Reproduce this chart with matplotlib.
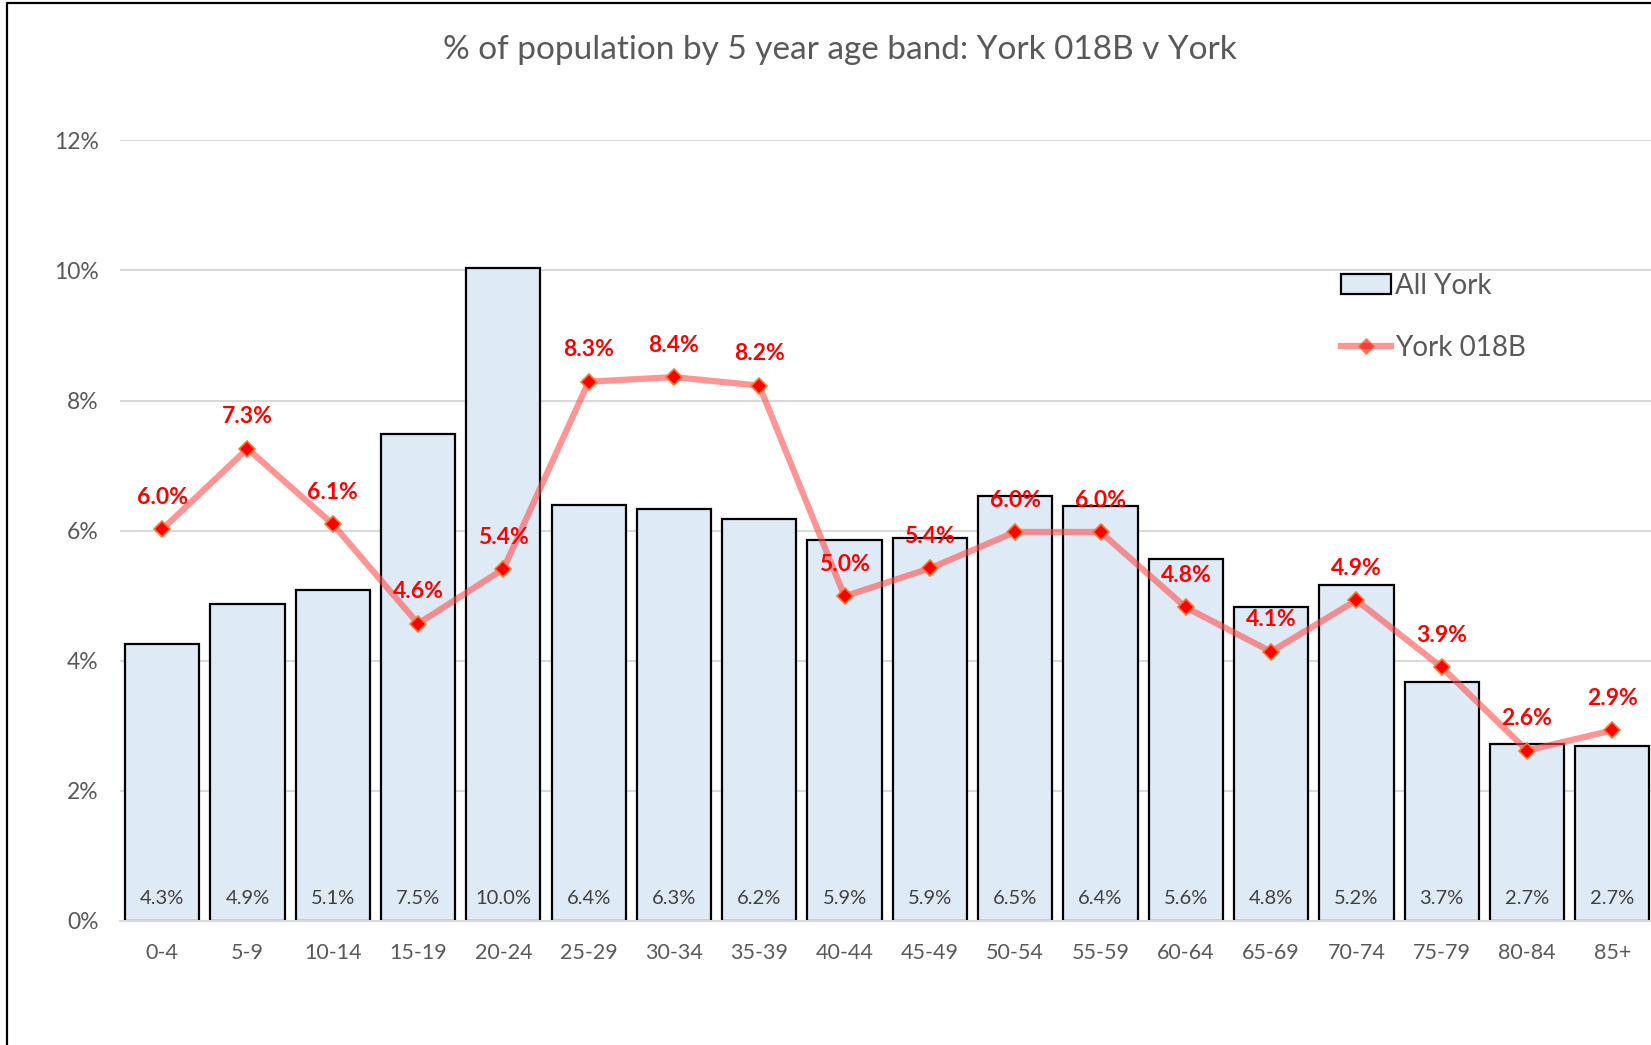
"""% of population by 5 year age band: York 018B compared with all of York."""

import matplotlib.pyplot as plt
import numpy as np
from matplotlib.lines import Line2D
from matplotlib.ticker import FuncFormatter


AGE_BANDS = [
    "0-4", "5-9", "10-14", "15-19", "20-24", "25-29", "30-34", "35-39",
    "40-44", "45-49", "50-54", "55-59", "60-64", "65-69", "70-74", "75-79",
    "80-84", "85+",
]
ALL_YORK = [
    4.26, 4.88, 5.09, 7.49, 10.03, 6.39, 6.34, 6.18, 5.86, 5.88, 6.53, 6.38,
    5.56, 4.82, 5.16, 3.68, 2.72, 2.69,
]
YORK_018B = [
    6.02, 7.26, 6.10, 4.57, 5.41, 8.29, 8.36, 8.23, 4.99, 5.42, 5.98, 5.98,
    4.82, 4.14, 4.93, 3.90, 2.62, 2.93,
]
Y_TICKS = [0, 2, 4, 6, 8, 10, 12]

FONT = ["Lato", "DejaVu Sans"]
GREY_TEXT = "#595959"


def main():
    fig = plt.figure(figsize=(16.51, 10.45), dpi=100)
    ax = fig.add_axes([0.0724, 0.1187, 0.930, 0.747])

    x = np.arange(len(AGE_BANDS))
    bars = ax.bar(
        x, ALL_YORK, width=0.87, color="#DEEAF6", edgecolor="black",
        linewidth=1.6, label="All York", zorder=2,
    )
    ax.plot(
        x, YORK_018B, color="#FF4D4D", alpha=0.6, linewidth=4.5,
        solid_capstyle="round", zorder=3,
    )
    ax.plot(
        x, YORK_018B, linestyle="none", marker="D", markersize=8,
        markerfacecolor="red", markeredgecolor="#ED7D31", markeredgewidth=1.2,
        zorder=4,
    )

    # value labels inside bars, near the base
    for bar, val in zip(bars, ALL_YORK):
        ax.annotate(
            f"{val:.1f}%", (bar.get_x() + bar.get_width() / 2, 0),
            xytext=(0, 16), textcoords="offset points", ha="center",
            va="center", fontsize=14.5, color="#404040", family=FONT, zorder=5,
        )
    # labels above line points
    for xi, val in zip(x, YORK_018B):
        ax.annotate(
            f"{val:.1f}%", (xi, val), xytext=(0, 23), textcoords="offset points",
            ha="center", va="center", fontsize=16.5, fontweight="bold",
            color="red", family=FONT, zorder=5,
        )

    ax.set_xlim(-0.5, len(AGE_BANDS) - 0.5)
    ax.set_ylim(0, 12)
    ax.set_yticks(Y_TICKS)
    ax.yaxis.set_major_formatter(FuncFormatter(lambda v, _: f"{v:.0f}%"))
    ax.set_xticks(x, AGE_BANDS)
    ax.tick_params(axis="both", length=0, labelcolor=GREY_TEXT)
    ax.tick_params(axis="y", pad=15, labelsize=16.5)
    ax.tick_params(axis="x", pad=16, labelsize=15.5)
    for lab in ax.get_xticklabels() + ax.get_yticklabels():
        lab.set_family(FONT)

    ax.grid(axis="y", color="#D9D9D9", linewidth=1.5, zorder=0)
    ax.set_axisbelow(True)
    for side in ("top", "right", "left"):
        ax.spines[side].set_visible(False)
    ax.spines["bottom"].set_color("#D9D9D9")
    ax.spines["bottom"].set_linewidth(1.5)

    legend_handles = [
        plt.Rectangle((0, 0), 1, 1, facecolor="#DEEAF6", edgecolor="black",
                      linewidth=1.6),
        Line2D([0], [0], color="#FF4D4D", alpha=0.6, linewidth=4.5,
               marker="D", markersize=8, markerfacecolor="red",
               markeredgecolor="#ED7D31"),
    ]
    fig.legend(
        legend_handles, ["All York", "York 018B"], loc="upper left",
        bbox_to_anchor=(0.797, 0.763), frameon=False, handlelength=1.8,
        handletextpad=0.15, labelspacing=1.3,
        prop={"family": FONT, "size": 20}, labelcolor=GREY_TEXT,
    )

    fig.text(
        0.509, 0.952, "% of population by 5 year age band: York 018B v York",
        ha="center", va="center", fontsize=24, color=GREY_TEXT, family=FONT,
    )

    # chart frame, clipped at the right and bottom like the source
    fig.add_artist(Line2D([0.0045, 0.0045, 1.0], [0.0, 0.9968, 0.9968],
                          transform=fig.transFigure, color="black",
                          linewidth=1.6))

    fig.savefig("out.png", dpi=100)
    plt.close(fig)


if __name__ == "__main__":
    main()
